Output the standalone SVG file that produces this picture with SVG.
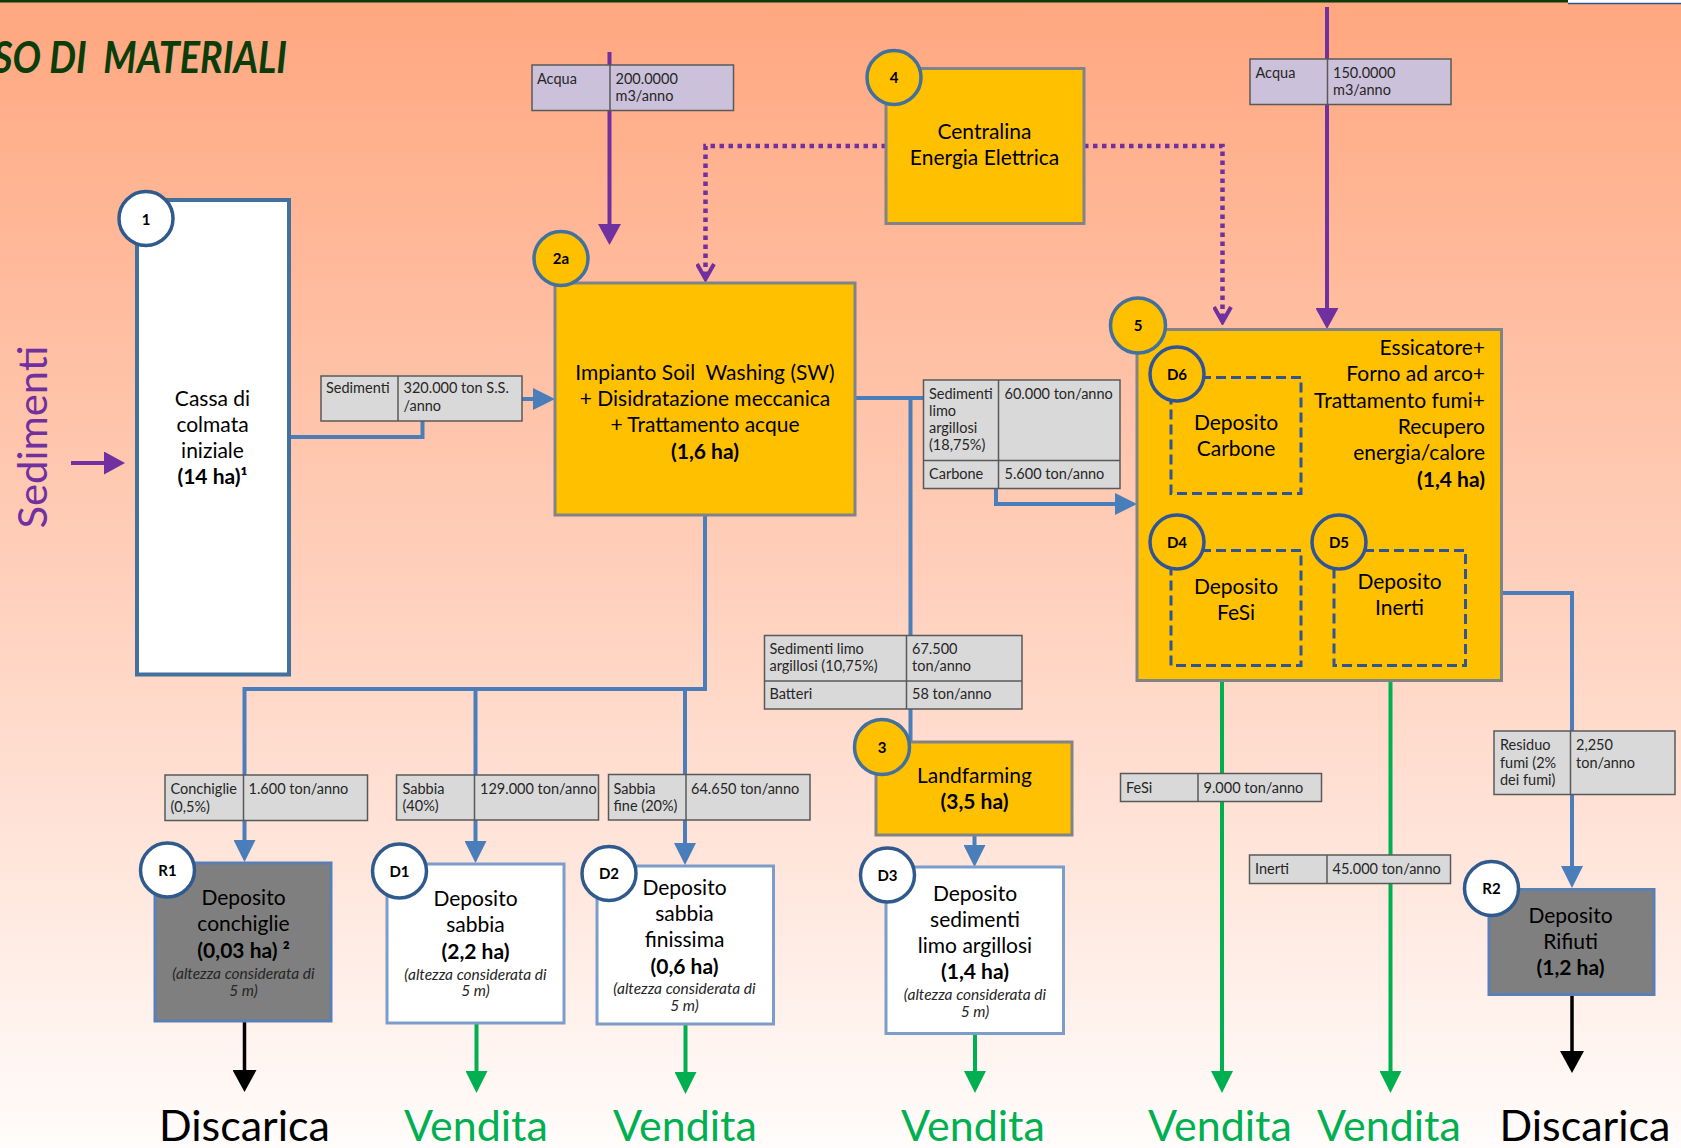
<svg xmlns="http://www.w3.org/2000/svg" width="1681" height="1148" viewBox="0 0 1681 1148">
<defs>
<linearGradient id="bg" x1="0" y1="0" x2="0" y2="1">
<stop offset="0" stop-color="#FFA77F"/>
<stop offset="0.5" stop-color="#FFCFBB"/>
<stop offset="1" stop-color="#FFFCFB"/>
</linearGradient>
<marker id="ab" viewBox="0 0 22 22" refX="16" refY="11" markerWidth="22" markerHeight="22" markerUnits="userSpaceOnUse" orient="auto"><path d="M0,0L22,11L0,22z" fill="#4A7EBB"/></marker>
<marker id="ag" viewBox="0 0 22 22" refX="16" refY="11" markerWidth="22" markerHeight="22" markerUnits="userSpaceOnUse" orient="auto"><path d="M0,0L22,11L0,22z" fill="#00B050"/></marker>
<marker id="ak" viewBox="0 0 22 24" refX="16" refY="12" markerWidth="22" markerHeight="24" markerUnits="userSpaceOnUse" orient="auto"><path d="M0,0L22,12L0,24z" fill="#000"/></marker>
<marker id="ap" viewBox="0 0 21 23" refX="15" refY="11.5" markerWidth="21" markerHeight="23" markerUnits="userSpaceOnUse" orient="auto"><path d="M0,0L21,11.5L0,23z" fill="#7030A0"/></marker>
<marker id="av" viewBox="0 0 20 20" refX="17" refY="10" markerWidth="20" markerHeight="20" markerUnits="userSpaceOnUse" orient="auto"><path d="M2,1.5L17,10L2,18.5" fill="none" stroke="#7030A0" stroke-width="4"/></marker>
</defs>
<style>
text{font-family:Lato,'Liberation Sans',sans-serif;white-space:pre}
.t{font-size:21px;fill:#000;text-anchor:middle}
.r{text-anchor:end}
.b{font-weight:bold}
.n{font-size:15.5px;font-style:italic;fill:#262626;text-anchor:middle}
.tb{font-size:14.5px;fill:#262626}
.c{font-size:15px;font-weight:bold;fill:#000;text-anchor:middle}
.big{font-size:43px;text-anchor:middle}
.tab{fill:#D9D9D9;stroke:#595959;stroke-width:1.5}
.aq{fill:#CCC1DA;stroke:#595959;stroke-width:1.5}
.dv{stroke:#595959;stroke-width:1.5}
.yb{fill:#FFC000;stroke:#808488;stroke-width:3}
.wb{fill:#fff;stroke:#7C9CC9;stroke-width:3}
.gb{fill:#7F7F7F;stroke:#5A7FB5;stroke-width:3}
.cw{fill:#fff;stroke:#2F5A8E;stroke-width:3.5}
.cy{fill:#FFC000;stroke:#41719C;stroke-width:3.5}
.cd{fill:#FFC000;stroke:#2F5597;stroke-width:3.5}
.dash{fill:none;stroke:#2F5597;stroke-width:3;stroke-dasharray:10 5}
.bl{fill:none;stroke:#4A7EBB;stroke-width:4}
.gl{fill:none;stroke:#00B050;stroke-width:4}
.kl{fill:none;stroke:#000;stroke-width:3.5}
.pl{fill:none;stroke:#7030A0;stroke-width:4}
.pd{fill:none;stroke:#7030A0;stroke-width:4.5;stroke-dasharray:4.5 4.5}
</style>
<rect x="0" y="0" width="1681" height="1148" fill="url(#bg)"/>
<rect x="0" y="0" width="1568" height="2.5" fill="#0B3B0B"/>
<rect x="1568" y="0" width="113" height="3" fill="#fff"/>
<line x1="1568" y1="3.5" x2="1681" y2="3.5" stroke="#2F5597" stroke-width="1.5"/>
<text x="-7" y="73" font-size="44" font-style="italic" font-weight="bold" fill="#0B3D0B" textLength="294" lengthAdjust="spacingAndGlyphs" xml:space="preserve">SO DI  MATERIALI</text>
<text transform="translate(47,437) rotate(-90)" font-size="41.5" fill="#7030A0" text-anchor="middle" textLength="183" lengthAdjust="spacingAndGlyphs">Sedimenti</text>

<g id="connectors">
<path class="pl" d="M71,463H119" stroke-width="3.5" marker-end="url(#ap)"/>
<path class="bl" d="M289,437H422.5V399H549" marker-end="url(#ab)"/>
<path class="bl" d="M855,398H996V504H1131" marker-end="url(#ab)"/>
<path class="bl" d="M910.5,398V742"/>
<path class="bl" d="M705,515V689H244.5V856" marker-end="url(#ab)"/>
<path class="bl" d="M475.5,689V857" marker-end="url(#ab)"/>
<path class="bl" d="M685,689V859" marker-end="url(#ab)"/>
<path class="bl" d="M974.5,835V861" marker-end="url(#ab)"/>
<path class="bl" d="M1501,593H1572V882" marker-end="url(#ab)"/>
<path class="pl" d="M609.5,52V239" marker-end="url(#ap)"/>
<path class="pl" d="M1327,7V323" marker-end="url(#ap)"/>
<path class="pd" d="M886,146H705.5V279" marker-end="url(#av)"/>
<path class="pd" d="M1084,146H1222.5V322" marker-end="url(#av)"/>
<path class="gl" d="M476.5,1023V1087" marker-end="url(#ag)"/>
<path class="gl" d="M685.5,1024V1088" marker-end="url(#ag)"/>
<path class="gl" d="M975,1033V1087" marker-end="url(#ag)"/>
<path class="gl" d="M1222,666V1087" marker-end="url(#ag)"/>
<path class="gl" d="M1390.5,666V1087" marker-end="url(#ag)"/>
<path class="kl" d="M244.5,1021V1086" marker-end="url(#ak)"/>
<path class="kl" d="M1572,994V1067" marker-end="url(#ak)"/>
</g>

<g id="tab-sedimenti">
<rect class="tab" x="321" y="376" width="201" height="45"/>
<line class="dv" x1="398" y1="376" x2="398" y2="421"/>
<text class="tb" x="326" y="393">Sedimenti</text>
<text class="tb" x="403.5" y="393">320.000 ton S.S.</text>
<text class="tb" x="403.5" y="410.5">/anno</text>
</g>
<g id="tab-acqua1">
<rect class="aq" x="532" y="65" width="201.5" height="45.5"/>
<line class="dv" x1="610" y1="65" x2="610" y2="110.5"/>
<text class="tb" x="537" y="83.5">Acqua</text>
<text class="tb" x="615.5" y="83.5">200.0000</text>
<text class="tb" x="615.5" y="101">m3/anno</text>
</g>
<g id="tab-acqua2">
<rect class="aq" x="1250" y="59" width="201" height="45.5"/>
<line class="dv" x1="1327.5" y1="59" x2="1327.5" y2="104.5"/>
<text class="tb" x="1255.5" y="77.5">Acqua</text>
<text class="tb" x="1333" y="77.5">150.0000</text>
<text class="tb" x="1333" y="95">m3/anno</text>
</g>
<g id="tab-sla1">
<rect class="tab" x="923.5" y="380" width="196.5" height="108.5"/>
<line class="dv" x1="998.5" y1="380" x2="998.5" y2="488.5"/>
<line class="dv" x1="923.5" y1="460.5" x2="1120" y2="460.5"/>
<text class="tb" x="929" y="398.5">Sedimenti</text>
<text class="tb" x="929" y="415.5">limo</text>
<text class="tb" x="929" y="433">argillosi</text>
<text class="tb" x="929" y="450">(18,75%)</text>
<text class="tb" x="929" y="479">Carbone</text>
<text class="tb" x="1004.5" y="398.5">60.000 ton/anno</text>
<text class="tb" x="1004.5" y="479">5.600 ton/anno</text>
</g>
<g id="tab-sla2">
<rect class="tab" x="764.5" y="635.5" width="257.5" height="73.5"/>
<line class="dv" x1="906.5" y1="635.5" x2="906.5" y2="709"/>
<line class="dv" x1="764.5" y1="681" x2="1022" y2="681"/>
<text class="tb" x="769.5" y="653.5">Sedimenti limo</text>
<text class="tb" x="769.5" y="671">argillosi (10,75%)</text>
<text class="tb" x="769.5" y="699">Batteri</text>
<text class="tb" x="912" y="653.5">67.500</text>
<text class="tb" x="912" y="671">ton/anno</text>
<text class="tb" x="912" y="699">58 ton/anno</text>
</g>
<g id="tab-conchiglie">
<rect class="tab" x="165" y="775" width="202.5" height="45.5"/>
<line class="dv" x1="243.5" y1="775" x2="243.5" y2="820.5"/>
<text class="tb" x="170.5" y="794">Conchiglie</text>
<text class="tb" x="170.5" y="811.5">(0,5%)</text>
<text class="tb" x="248.5" y="794">1.600 ton/anno</text>
</g>
<g id="tab-sabbia">
<rect class="tab" x="396.5" y="775" width="202" height="45"/>
<line class="dv" x1="474.5" y1="775" x2="474.5" y2="820"/>
<text class="tb" x="402.5" y="793.5">Sabbia</text>
<text class="tb" x="402.5" y="811">(40%)</text>
<text class="tb" x="480" y="793.5">129.000 ton/anno</text>
</g>
<g id="tab-sabbiafine">
<rect class="tab" x="608.5" y="774.5" width="201.5" height="45.5"/>
<line class="dv" x1="686" y1="774.5" x2="686" y2="820"/>
<text class="tb" x="613.5" y="793.5">Sabbia</text>
<text class="tb" x="613.5" y="811">fine (20%)</text>
<text class="tb" x="691" y="793.5">64.650 ton/anno</text>
</g>
<g id="tab-fesi">
<rect class="tab" x="1120.5" y="773.5" width="201" height="28"/>
<line class="dv" x1="1198" y1="773.5" x2="1198" y2="801.5"/>
<text class="tb" x="1126" y="792.5">FeSi</text>
<text class="tb" x="1203.5" y="792.5">9.000 ton/anno</text>
</g>
<g id="tab-inerti">
<rect class="tab" x="1249.5" y="855" width="201" height="28.5"/>
<line class="dv" x1="1327" y1="855" x2="1327" y2="883.5"/>
<text class="tb" x="1255" y="874">Inerti</text>
<text class="tb" x="1332.5" y="874">45.000 ton/anno</text>
</g>
<g id="tab-residuo">
<rect class="tab" x="1494" y="731" width="181" height="63.5"/>
<line class="dv" x1="1570.5" y1="731" x2="1570.5" y2="794.5"/>
<text class="tb" x="1500" y="750">Residuo</text>
<text class="tb" x="1500" y="767.5">fumi (2%</text>
<text class="tb" x="1500" y="785">dei fumi)</text>
<text class="tb" x="1576" y="750">2,250</text>
<text class="tb" x="1576" y="767.5">ton/anno</text>
</g>

<g id="node1">
<rect x="137" y="200" width="152" height="474.5" fill="#fff" stroke="#41719C" stroke-width="4"/>
<text class="t" x="212.5" y="406">Cassa di</text>
<text class="t" x="212.5" y="432">colmata</text>
<text class="t" x="212.5" y="458">iniziale</text>
<text class="t b" x="212.5" y="484">(14 ha)¹</text>
<circle class="cw" cx="146" cy="218.5" r="27"/>
<text class="c" x="146" y="225" font-size="19">1</text>
</g>
<g id="node2a">
<rect class="yb" x="555" y="283" width="300" height="232"/>
<text class="t" x="705" y="379.5" xml:space="preserve">Impianto Soil  Washing (SW)</text>
<text class="t" x="705" y="406">+ Disidratazione meccanica</text>
<text class="t" x="705" y="432">+ Trattamento acque</text>
<text class="t b" x="705" y="458.5">(1,6 ha)</text>
<circle class="cy" cx="561" cy="258.5" r="27"/>
<text class="c" x="561" y="264">2a</text>
</g>
<g id="node4">
<rect class="yb" x="886" y="68.5" width="198" height="155"/>
<text class="t" x="984.5" y="138.5">Centralina</text>
<text class="t" x="984.5" y="165">Energia Elettrica</text>
<circle class="cy" cx="894" cy="77.5" r="27"/>
<text class="c" x="894" y="83">4</text>
</g>
<g id="node5">
<rect class="yb" x="1137" y="329.5" width="364.5" height="351"/>
<text class="t r" x="1485" y="355">Essicatore+</text>
<text class="t r" x="1485" y="381">Forno ad arco+</text>
<text class="t r" x="1485" y="407.5">Trattamento fumi+</text>
<text class="t r" x="1485" y="434">Recupero</text>
<text class="t r" x="1485" y="460">energia/calore</text>
<text class="t r b" x="1485" y="486.5">(1,4 ha)</text>
<circle class="cy" cx="1138" cy="325.5" r="27.5"/>
<text class="c" x="1138" y="331">5</text>
</g>
<g id="nodeD6">
<rect class="dash" x="1171" y="377.5" width="130" height="116"/>
<text class="t" x="1236" y="430">Deposito</text>
<text class="t" x="1236" y="456">Carbone</text>
<circle class="cd" cx="1177" cy="374" r="27"/>
<text class="c" x="1177" y="379.5">D6</text>
</g>
<g id="nodeD4">
<rect class="dash" x="1171" y="550.5" width="130" height="115"/>
<text class="t" x="1236" y="593.5">Deposito</text>
<text class="t" x="1236" y="620">FeSi</text>
<circle class="cd" cx="1177" cy="542" r="27"/>
<text class="c" x="1177" y="547.5">D4</text>
</g>
<g id="nodeD5">
<rect class="dash" x="1334" y="550.5" width="131.5" height="115"/>
<text class="t" x="1399.5" y="588.5">Deposito</text>
<text class="t" x="1399.5" y="615">Inerti</text>
<circle class="cd" cx="1339" cy="542" r="27"/>
<text class="c" x="1339" y="547.5">D5</text>
</g>
<g id="node3">
<rect class="yb" x="876" y="742" width="196" height="93"/>
<text class="t" x="974.5" y="782.5">Landfarming</text>
<text class="t b" x="974.5" y="808.5">(3,5 ha)</text>
<circle class="cy" cx="882" cy="747" r="27.5"/>
<text class="c" x="882" y="752.5">3</text>
</g>
<g id="nodeR1">
<rect class="gb" x="155" y="863" width="176" height="158"/>
<text class="t" x="243.5" y="905">Deposito</text>
<text class="t" x="243.5" y="931">conchiglie</text>
<text class="t b" x="243.5" y="957.5">(0,03 ha) ²</text>
<text class="n" x="243.5" y="978.5">(altezza considerata di</text>
<text class="n" x="243.5" y="996">5 m)</text>
<circle class="cw" cx="167.5" cy="870" r="27"/>
<text class="c" x="167.5" y="875.5">R1</text>
</g>
<g id="nodeD1">
<rect class="wb" x="387" y="864" width="177" height="159"/>
<text class="t" x="475.5" y="906">Deposito</text>
<text class="t" x="475.5" y="932">sabbia</text>
<text class="t b" x="475.5" y="958.5">(2,2 ha)</text>
<text class="n" x="475.5" y="979.5">(altezza considerata di</text>
<text class="n" x="475.5" y="996">5 m)</text>
<circle class="cw" cx="399.5" cy="871" r="27"/>
<text class="c" x="399.5" y="876.5">D1</text>
</g>
<g id="nodeD2">
<rect class="wb" x="597" y="866" width="176.5" height="158"/>
<text class="t" x="684.5" y="895">Deposito</text>
<text class="t" x="684.5" y="921">sabbia</text>
<text class="t" x="684.5" y="947">finissima</text>
<text class="t b" x="684.5" y="973.5">(0,6 ha)</text>
<text class="n" x="684.5" y="993.5">(altezza considerata di</text>
<text class="n" x="684.5" y="1011">5 m)</text>
<circle class="cw" cx="609" cy="873.5" r="27"/>
<text class="c" x="609" y="879">D2</text>
</g>
<g id="nodeD3">
<rect class="wb" x="886" y="867" width="177.5" height="166.5"/>
<text class="t" x="975" y="901">Deposito</text>
<text class="t" x="975" y="927">sedimenti</text>
<text class="t" x="975" y="953">limo argillosi</text>
<text class="t b" x="975" y="979">(1,4 ha)</text>
<text class="n" x="975" y="1000">(altezza considerata di</text>
<text class="n" x="975" y="1017">5 m)</text>
<circle class="cw" cx="887.5" cy="875" r="27"/>
<text class="c" x="887.5" y="880.5">D3</text>
</g>
<g id="nodeR2">
<rect class="gb" x="1489" y="889.5" width="165" height="105"/>
<text class="t" x="1570.5" y="923">Deposito</text>
<text class="t" x="1570.5" y="948.5">Rifiuti</text>
<text class="t b" x="1570.5" y="975">(1,2 ha)</text>
<circle class="cw" cx="1491.5" cy="888.5" r="27"/>
<text class="c" x="1491.5" y="894">R2</text>
</g>
<g id="outputs">
<text class="big" x="244.5" y="1141" fill="#000">Discarica</text>
<text class="big" x="476" y="1141" fill="#00B050">Vendita</text>
<text class="big" x="685" y="1141" fill="#00B050">Vendita</text>
<text class="big" x="973" y="1141" fill="#00B050">Vendita</text>
<text class="big" x="1220" y="1141" fill="#00B050">Vendita</text>
<text class="big" x="1389" y="1141" fill="#00B050">Vendita</text>
<text class="big" x="1585" y="1141" fill="#000">Discarica</text>
</g>
</svg>
